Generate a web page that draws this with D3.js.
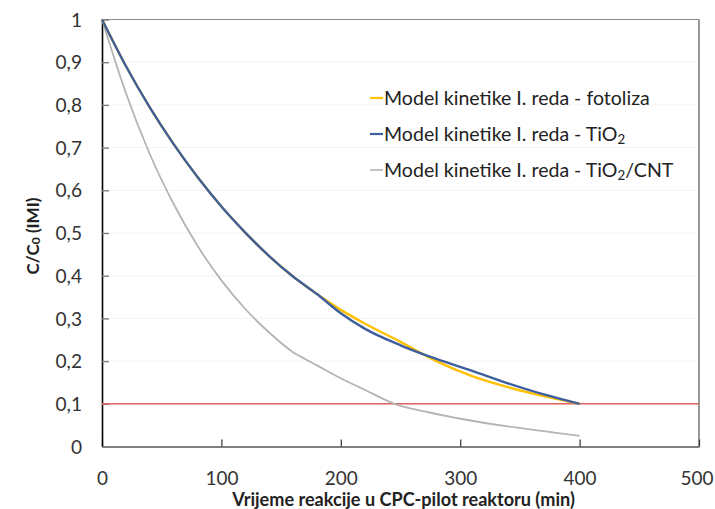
<!DOCTYPE html>
<html>
<head>
<meta charset="utf-8">
<script src="https://cdn.jsdelivr.net/npm/d3@7/dist/d3.min.js"></script>
<style>
html,body{margin:0;padding:0;background:#fff;}
svg{display:block;font-family:Lato, "Open Sans", sans-serif;}
</style>
</head>
<body>
<svg id="chart" width="715" height="509"></svg>
<script>
// ---- data ----
const xTicks = [0, 100, 200, 300, 400, 500];
const yTicks = [0, 0.1, 0.2, 0.3, 0.4, 0.5, 0.6, 0.7, 0.8, 0.9, 1];

const tFoto = [0, 20, 40, 60, 80, 100, 120, 140, 160, 180, 200, 220, 250, 280, 310, 340, 370, 400];
const vFoto = [1.0, 0.891, 0.794, 0.708, 0.631, 0.562, 0.501, 0.446, 0.398, 0.357, 0.320, 0.288, 0.245, 0.200, 0.165, 0.139, 0.118, 0.100];

const tTiO2 = [0, 20, 40, 60, 80, 100, 120, 140, 160, 180, 200, 220, 250, 280, 310, 340, 370, 400];
const vTiO2 = [1.0, 0.891, 0.794, 0.708, 0.631, 0.562, 0.501, 0.446, 0.398, 0.357, 0.312, 0.276, 0.237, 0.205, 0.177, 0.148, 0.122, 0.100];

const tCNT = [0, 20, 40, 60, 80, 100, 120, 140, 160, 170, 180, 200, 220, 245, 270, 300, 340, 370, 400];
const vCNT = [1.0, 0.828, 0.685, 0.568, 0.470, 0.389, 0.322, 0.267, 0.221, 0.205, 0.190, 0.160, 0.133, 0.100, 0.082, 0.065, 0.047, 0.036, 0.025];

const limitValue = 0.1;

const seriesNames = ["Model kinetike I. reda - fotoliza", "Model kinetike I. reda - TiO", "Model kinetike I. reda - TiO"];
const seriesSubs = ["", "2", "2"];
const seriesTails = ["", "", "/CNT"];
const xTitle = "Vrijeme reakcije u CPC-pilot reaktoru (min)";

// ---- layout ----
const svg = d3.select("#chart");
const x = d3.scaleLinear().domain([0, 500]).range([102, 699]);
const y = d3.scaleLinear().domain([0, 1]).range([446.5, 19.5]);
const fmt = v => String(+v.toFixed(1)).replace(".", ",");

// font size so that a text node reaches a target width
function fitSize(node, base, target) {
  const w = node.getComputedTextLength();
  return w > 0 ? base * target / w : base;
}

// gridlines
svg.append("g").selectAll("line").data(yTicks.slice(1)).join("line")
  .attr("x1", x(0)).attr("x2", x(500))
  .attr("y1", d => y(d)).attr("y2", d => y(d))
  .attr("stroke", "#f3f3f3").attr("stroke-width", 1);

// frame top / right
svg.append("line").attr("x1", x(0)).attr("x2", x(500)).attr("y1", y(1)).attr("y2", y(1))
  .attr("stroke", "#8a8a8a").attr("stroke-width", 1.2);
svg.append("line").attr("x1", x(500)).attr("x2", x(500)).attr("y1", y(1)).attr("y2", y(0))
  .attr("stroke", "#555").attr("stroke-width", 1.2);

// axes
const xAxis = d3.axisBottom(x).tickValues(xTicks).tickSizeInner(-7).tickSizeOuter(0).tickPadding(0).tickFormat(d => d);
const gx = svg.append("g").attr("transform", `translate(0,${y(0)})`).call(xAxis);
gx.select(".domain").attr("stroke", "#7f7f7f").attr("stroke-width", 1.8);
gx.selectAll(".tick line").attr("stroke", "#333").attr("stroke-width", 1.2);
gx.selectAll(".tick text").attr("y", 0).attr("dy", null).attr("dominant-baseline", "central")
  .attr("transform", "translate(0,31)")
  .attr("font-family", "Lato, sans-serif").attr("font-size", 19).attr("fill", "#333");
{
  const n = gx.selectAll(".tick text").filter(d => d === 100).node();
  const fs = fitSize(n, 19, 33);
  gx.selectAll(".tick text").attr("font-size", fs);
  // keep the last label inside the picture
  gx.selectAll(".tick text").filter(d => d === 500).each(function () {
    const w = this.getComputedTextLength();
    const over = x(500) + w / 2 - 713;
    if (over > 0) d3.select(this).attr("transform", `translate(${-over},31)`);
  });
}

const yAxis = d3.axisLeft(y).tickValues(yTicks).tickSizeInner(-7).tickSizeOuter(0).tickPadding(0).tickFormat(fmt);
const gy = svg.append("g").attr("transform", `translate(${x(0)},0)`).call(yAxis);
gy.select(".domain").attr("stroke", "#000").attr("stroke-width", 1.6);
gy.selectAll(".tick line").attr("stroke", "#7f7f7f").attr("stroke-width", 1.4);
gy.selectAll(".tick text").attr("x", -20).attr("dy", "0.35em")
  .attr("font-family", "Lato, sans-serif").attr("font-size", 19).attr("fill", "#333");
{
  const n = gy.selectAll(".tick text").filter(d => Math.abs(d - 0.9) < 1e-9).node();
  const fs = fitSize(n, 19, 26.5);
  gy.selectAll(".tick text").attr("font-size", fs);
}

// limit line
svg.append("line").attr("x1", x(0)).attr("x2", x(500))
  .attr("y1", y(limitValue)).attr("y2", y(limitValue))
  .attr("stroke", "#e06060").attr("stroke-width", 1.6);

// series
const line = d3.line().x(d => x(d[0])).y(d => y(d[1])).curve(d3.curveMonotoneX);
const series = [
  {t: tCNT, v: vCNT, color: "#b4b4b4", w: 1.8},
  {t: tFoto, v: vFoto, color: "#ffc000", w: 2.4},
  {t: tTiO2, v: vTiO2, color: "#3d5f9e", w: 2.4}
];
series.forEach(s => {
  svg.append("path").datum(d3.zip(s.t, s.v)).attr("d", line)
    .attr("fill", "none").attr("stroke", s.color).attr("stroke-width", s.w)
    .attr("stroke-linejoin", "round");
});

// legend
const legColors = ["#ffc000", "#3d5f9e", "#b4b4b4"];
const legW = [2.2, 2.2, 1.6];
const lg = svg.append("g");
const probe = lg.append("text").attr("font-size", 18).text(seriesNames[0]);
const legFs = fitSize(probe.node(), 18, 266);
probe.remove();
seriesNames.forEach((n, i) => {
  const yy = 98 + i * 36;
  lg.append("line").attr("x1", 370).attr("x2", 383).attr("y1", yy).attr("y2", yy)
    .attr("stroke", legColors[i]).attr("stroke-width", legW[i]);
  const t = lg.append("text").attr("x", 384).attr("y", yy).attr("dy", "0.36em")
    .attr("font-size", legFs).attr("fill", "#222");
  t.append("tspan").text(n);
  if (seriesSubs[i]) t.append("tspan").attr("font-size", legFs * 0.68).attr("dy", 3).text(seriesSubs[i]);
  if (seriesTails[i]) t.append("tspan").attr("dy", -3).text(seriesTails[i]);
});

// axis titles
const xt = svg.append("text").attr("x", 403.5).attr("y", 499).attr("text-anchor", "middle")
  .attr("dominant-baseline", "central").attr("font-weight", "bold").attr("font-size", 16)
  .attr("fill", "#222").text(xTitle);
xt.attr("font-size", fitSize(xt.node(), 16, 343));

const yt = svg.append("text").attr("transform", "translate(32,236) rotate(-90)")
  .attr("text-anchor", "middle").attr("dominant-baseline", "central")
  .attr("font-weight", "bold").attr("font-size", 17).attr("fill", "#222");
yt.append("tspan").text("C/C");
yt.append("tspan").attr("font-size", 12).attr("dy", 3).text("0");
yt.append("tspan").attr("dy", -3).text(" (IMI)");
</script>
</body>
</html>
